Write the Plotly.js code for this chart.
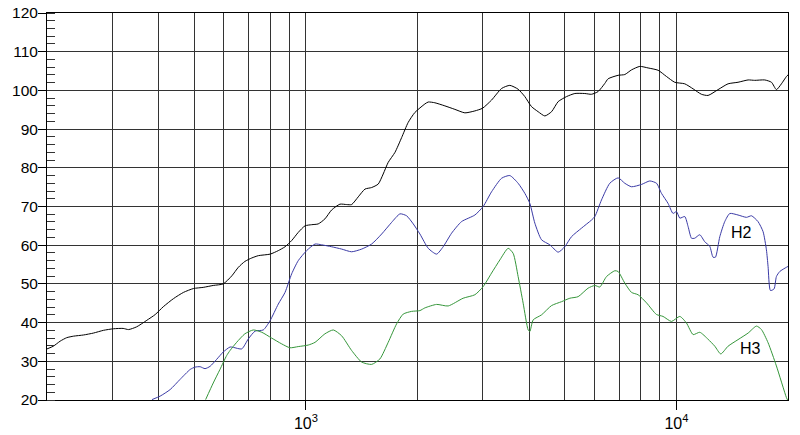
<!DOCTYPE html>
<html>
<head>
<meta charset="utf-8">
<script src="https://cdn.plot.ly/plotly-3.0.1.min.js"></script>
<style>
html,body{margin:0;padding:0;background:#fff;}
#chart{width:800px;height:435px;}
</style>
</head>
<body>
<div id="chart"></div>
<script>
// Main response (black)
var mainFreq = [200,208,217,226,236,251,267,284,302,321,332,349,372,392,412,439,467,497,528,562,598,631,657,684,714,744,801,842,878,915,953,994,1036,1079,1125,1173,1235,1288,1328,1384,1443,1504,1567,1616,1667,1739,1812,1887,1968,2094,2138,2228,2371,2523,2685,2857,2997,3169,3373,3550,3738,3897,4063,4233,4413,4601,4794,5050,5318,5656,5897,6145,6406,6539,6959,7254,7562,7962,8383,8920,9397,9895,10530,11090,11680,12170,12950,13780,14660,15610,16260,17310,18050,18610,19200,19810,20000];
var mainDb = [33.2,33.9,35.2,36.1,36.5,36.8,37.3,38.0,38.4,38.5,38.2,38.9,40.6,42.1,44.1,46.2,47.8,48.8,49.1,49.6,50.0,52.1,54.3,55.8,56.7,57.3,57.7,58.6,59.6,61.2,63.3,65.0,65.3,65.5,66.8,69.1,70.6,70.5,70.5,72.5,74.5,74.9,75.8,78.4,81.4,84.0,87.8,91.7,94.3,96.5,97.0,96.8,96.0,95.1,94.2,94.7,95.4,97.5,100.5,101.3,100.3,98.4,95.8,94.5,93.4,94.5,97.1,98.4,99.2,99.2,99.0,99.7,101.8,103.0,103.9,104.1,105.3,106.2,105.8,105.2,103.6,102.1,101.7,100.4,99.0,98.7,100.2,101.7,102.1,102.7,102.6,102.7,102.1,100.2,101.7,103.6,104.0];

// H2 (blue)
var h2Freq = [384,404,430,457,487,502,518,534,551,574,598,624,637,671,699,729,767,800,842,878,915,953,1004,1058,1102,1173,1248,1328,1414,1504,1601,1703,1794,1869,1948,2030,2138,2252,2346,2472,2630,2857,3008,3169,3373,3550,3738,3897,4020,4147,4323,4552,4794,4995,5208,5542,5897,6021,6276,6607,6959,7254,7562,8047,8472,8835,9111,9491,9790,10000,10210,10530,10750,10980,11200,11560,11920,12300,12550,12740,13090,13500,13930,14660,15450,15940,16600,17130,17490,17670,17930,18340,18610,19000,19810,20000];
var h2Db = [20.1,21.0,22.7,25.3,27.9,28.5,28.6,28.1,28.7,30.5,32.4,33.7,33.6,33.2,35.8,37.8,38.1,40.5,44.8,47.8,52.6,56.0,58.6,60.3,60.1,59.6,59.0,58.3,59.0,60.3,62.9,65.9,68.1,67.6,65.5,62.9,59.2,57.7,59.6,63.1,66.1,67.8,70.0,73.8,77.3,78.0,76.0,73.4,70.8,65.7,61.4,60.1,58.2,59.6,62.2,64.4,66.5,67.4,71.7,76.0,77.4,76.0,75.1,75.7,76.6,76.0,73.4,70.8,68.2,68.7,67.0,67.4,64.8,61.8,61.8,62.7,60.9,59.7,56.9,56.9,62.2,66.1,68.2,67.8,67.2,67.6,66.1,63.5,58.8,54.5,48.3,48.7,51.9,53.2,54.3,54.5];

// H3 (green)
var h3Freq = [536,562,586,611,624,650,684,721,760,808,860,905,953,1014,1058,1125,1185,1248,1328,1414,1504,1583,1667,1757,1830,1928,2030,2094,2252,2420,2656,2857,3008,3169,3337,3513,3624,3738,3857,3979,4020,4104,4323,4601,4894,5155,5427,5774,6021,6211,6474,6818,6959,7254,7562,7878,8302,8831,9199,9694,10210,10640,11090,11560,12170,12690,13170,13780,14660,15610,16440,16960,17670,18610,19810,20000];
var h3Db = [20.1,24.4,27.9,31.5,32.8,34.9,37.1,38.1,37.5,36.0,34.5,33.5,33.8,34.2,34.9,37.1,38.1,36.6,32.8,29.8,29.2,30.6,34.9,39.7,42.2,42.9,43.1,43.8,44.7,44.3,46.3,47.2,49.3,52.8,56.2,59.2,57.9,51.9,45.0,38.1,37.7,40.7,42.0,44.4,45.4,46.3,46.7,48.9,49.6,49.2,51.9,53.4,53.2,50.2,47.8,47.2,45.1,42.1,41.6,40.3,41.6,39.9,36.9,37.5,35.7,33.9,31.9,33.9,35.6,37.3,39.1,38.2,34.8,28.8,20.6,19.8];

// Axis ticks / grid
var majorFreqTicks = [1000, 10000];
var majorFreqText = ['10<sup>3</sup>', '10<sup>4</sup>'];
var gridFreqs = [200,300,400,500,600,700,800,900,2000,3000,4000,5000,6000,7000,8000,9000,20000];
var freqRange = [200, 20000];
var dbRange = [20, 120];

// Curve labels
var labelText = ['H2', 'H3'];
var labelFreq = [14980, 15800];
var labelDb = [63.3, 33.2];

var font = 'Liberation Sans, Arial, sans-serif';
var gridColor = '#333333';

var traces = [
  {x: mainFreq, y: mainDb, mode: 'lines', line: {color: '#000000', width: 1, shape: 'spline', smoothing: 0.6}, hoverinfo: 'skip'},
  {x: h2Freq, y: h2Db, mode: 'lines', line: {color: '#3a3aa6', width: 1, shape: 'spline', smoothing: 0.6}, hoverinfo: 'skip'},
  {x: h3Freq, y: h3Db, mode: 'lines', line: {color: '#35963a', width: 1, shape: 'spline', smoothing: 0.6}, hoverinfo: 'skip'}
];

var annotations = labelText.map(function (t, i) {
  return {x: Math.log10(labelFreq[i]), y: labelDb[i], xref: 'x', yref: 'y', text: t,
    showarrow: false, font: {family: font, size: 16, color: '#000'}, xanchor: 'center', yanchor: 'middle'};
});

var layout = {
  width: 800, height: 435,
  margin: {l: 47, r: 12, t: 13, b: 35, pad: 0},
  paper_bgcolor: '#ffffff', plot_bgcolor: '#ffffff',
  showlegend: false,
  xaxis: {
    type: 'log',
    range: [Math.log10(freqRange[0]), Math.log10(freqRange[1])],
    tickmode: 'array', tickvals: majorFreqTicks, ticktext: majorFreqText,
    ticks: 'outside', ticklen: 9, tickwidth: 1, tickcolor: '#000',
    showgrid: true, gridcolor: gridColor, gridwidth: 1,
    showline: true, linecolor: '#000', linewidth: 1, mirror: true,
    zeroline: false,
    tickfont: {family: font, size: 16, color: '#000'},
    minor: {tickmode: 'array', tickvals: gridFreqs, ticks: '', showgrid: true, gridcolor: gridColor, gridwidth: 1},
    fixedrange: true
  },
  yaxis: {
    range: dbRange,
    tick0: 0, dtick: 10,
    ticks: 'outside', ticklen: 8, tickwidth: 1, tickcolor: '#000',
    ticklabelstandoff: -3,
    showgrid: true, gridcolor: gridColor, gridwidth: 1,
    showline: true, linecolor: '#000', linewidth: 1, mirror: true,
    zeroline: false,
    tickfont: {family: font, size: 15.5, color: '#000'},
    minor: {dtick: 2, tick0: 0, ticks: 'inside', ticklen: 8, tickwidth: 1, tickcolor: '#333', showgrid: false},
    fixedrange: true
  },
  annotations: annotations
};

Plotly.newPlot('chart', traces, layout, {staticPlot: true, displayModeBar: false});
</script>
</body>
</html>
